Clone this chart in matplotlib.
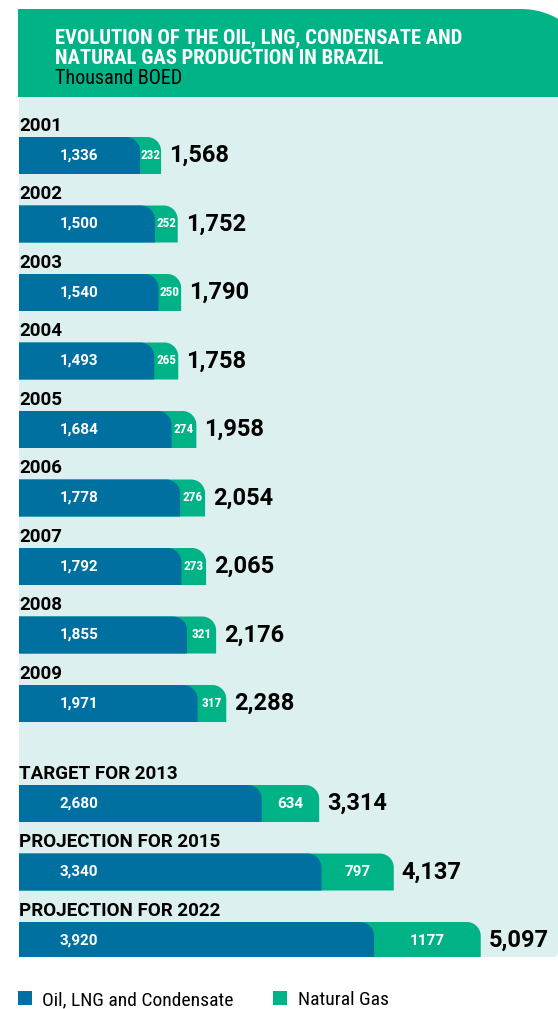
import numpy as np
import matplotlib.pyplot as plt
from matplotlib.patches import Polygon, Rectangle

plt.rcParams['font.family'] = ['Roboto Condensed', 'Roboto', 'DejaVu Sans']
WIDE = ['Roboto', 'DejaVu Sans']

# production, thousand BOED
labels = ["2001", "2002", "2003", "2004", "2005", "2006", "2007", "2008", "2009",
          "TARGET FOR 2013", "PROJECTION FOR 2015", "PROJECTION FOR 2022"]
oil = [1336, 1500, 1540, 1493, 1684, 1778, 1792, 1855, 1971, 2680, 3340, 3920]
gas = [232, 252, 250, 265, 274, 276, 273, 321, 317, 634, 797, 1177]
gas_labels = ["232", "252", "250", "265", "274", "276", "273", "321", "317", "634", "797", "1177"]

BLUE = "#0070a0"
GREEN = "#00b386"
PANEL = "#dcf0ef"

W, H = 558, 1009
fig = plt.figure(figsize=(W / 100, H / 100), dpi=100)

# background layer in pixel units
bg = fig.add_axes([0, 0, 1, 1])
bg.set_xlim(0, W)
bg.set_ylim(H, 0)
bg.axis("off")


def corner_shape(x0, x1, top, bottom, rx, ry, n=30):
    """Rectangle with rounded top-right corner (y grows downwards)."""
    t = np.linspace(0, np.pi / 2, n)
    arc_x = x1 - rx + rx * np.cos(t)
    arc_y = top + ry - ry * np.sin(t)
    pts = [(x0, bottom), (x1, bottom)] + list(zip(arc_x, arc_y)) + [(x0, top)]
    return np.array(pts)


# light panel with slightly rounded bottom-right corner
t = np.linspace(0, np.pi / 2, 20)
panel = [(19, 97), (W, 97), (W, 952)] + \
        [(W - 5 + 5 * np.cos(a), 952 + 5 * np.sin(a)) for a in t] + [(19, 957)]
bg.add_patch(Polygon(panel, closed=True, facecolor=PANEL, edgecolor="none"))

# header band
bg.add_patch(Polygon(corner_shape(18, W + 30, 9, 97, 67, 59), closed=True,
                     facecolor=GREEN, edgecolor="none"))
bg.text(55, 44, "EVOLUTION OF THE OIL, LNG, CONDENSATE AND", color="white",
        fontsize=14.9, fontweight="bold", va="baseline")
bg.text(55, 64, "NATURAL GAS PRODUCTION IN BRAZIL", color="white",
        fontsize=14.9, fontweight="bold", va="baseline")
bg.text(55, 84, "Thousand BOED", color="black", fontsize=14.5, va="baseline")

# legend
bg.add_patch(Rectangle((18, 991), 14, 14, facecolor=BLUE, edgecolor="none"))
bg.text(42, 1005, "Oil, LNG and Condensate", fontsize=14, va="baseline")
bg.add_patch(Rectangle((273, 991), 14, 14, facecolor=GREEN, edgecolor="none"))
bg.text(298, 1005, "Natural Gas", fontsize=14, va="baseline")

# bar area
ax_l, ax_r, ax_t, ax_b = 19, W, 97, 957
ax = fig.add_axes([ax_l / W, (H - ax_b) / H, (ax_r - ax_l) / W, (ax_b - ax_t) / H])
ax.patch.set_visible(False)
ax.axis("off")
pitch = 68.5
xmax = 5950
ax.set_xlim(0, xmax)
ax.set_ylim((ax_b - ax_t) / pitch, 0)

sx = (ax_r - ax_l) / xmax      # px per BOED
sy = pitch                     # px per row
bar_h = 0.54
r_px = 14

rows = [0.584 + i + (0.46 if i >= 9 else 0) for i in range(len(labels))]

for y, lab, o, g, gl in zip(rows, labels, oil, gas, gas_labels):
    total = o + g
    ax.add_patch(Polygon(corner_shape(0, total, y, y + bar_h, r_px / sx, r_px / sy),
                         closed=True, facecolor=GREEN, edgecolor="none"))
    ax.add_patch(Polygon(corner_shape(0, o, y, y + bar_h, r_px / sx, r_px / sy),
                         closed=True, facecolor=BLUE, edgecolor="none"))
    mid = y + bar_h / 2
    ax.text(0, y - 0.03, lab, fontsize=13.5, fontweight="bold", va="bottom", ha="left",
            family=WIDE)
    ax.text(60 / sx, mid, f"{o:,}", color="white", fontsize=11, fontweight="bold",
            ha="center", va="center", family=WIDE)
    # narrow gas segments get a smaller label so it stays on the green
    wide_seg = g * sx > 40
    ax.text(o + g / 2, mid, gl, color="white", fontsize=11 if wide_seg else 9.5,
            fontweight="bold", ha="center", va="center",
            family=WIDE if wide_seg else None)
    ax.text(total + 8 / sx, mid, f"{total:,}", fontsize=17, fontweight="bold",
            ha="left", va="center", family=WIDE)

fig.savefig("out.png", dpi=100)
